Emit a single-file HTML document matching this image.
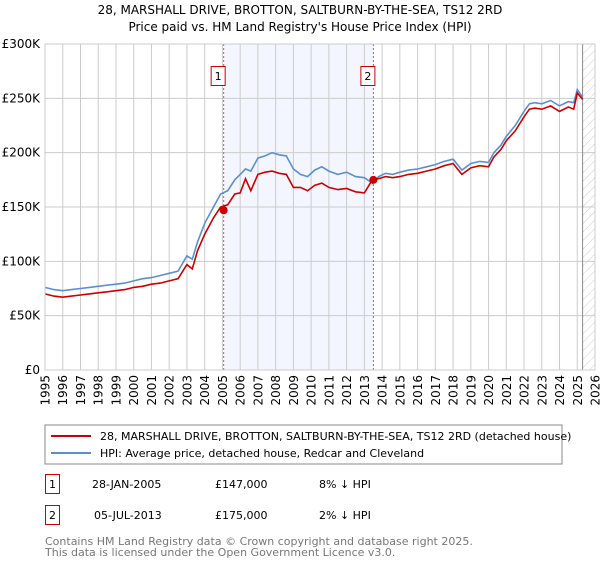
<!DOCTYPE html>
<html><head><meta charset="utf-8"><style>
body{margin:0;background:#fff;font-family:"DejaVu Sans","Liberation Sans",sans-serif;}
svg text{font-family:"DejaVu Sans","Liberation Sans",sans-serif;}
</style></head><body>
<svg id="c" width="600" height="560" xmlns="http://www.w3.org/2000/svg">
<defs><pattern id="hatch" width="6" height="6" patternUnits="userSpaceOnUse" patternTransform="rotate(45)"><line x1="0" y1="0" x2="0" y2="6" stroke="#ccc" stroke-width="1"/></pattern></defs>
<text x="300" y="14" text-anchor="middle" font-size="12">28, MARSHALL DRIVE, BROTTON, SALTBURN-BY-THE-SEA, TS12 2RD</text>
<text x="300" y="31" text-anchor="middle" font-size="12">Price paid vs. HM Land Registry's House Price Index (HPI)</text>
<g id="plot"></g>
<rect x="45" y="425" width="517" height="39" fill="#fff" stroke="#888"/>
<line x1="51" y1="436" x2="91" y2="436" stroke="#cc0000" stroke-width="2"/>
<text x="100" y="440" font-size="11">28, MARSHALL DRIVE, BROTTON, SALTBURN-BY-THE-SEA, TS12 2RD (detached house)</text>
<line x1="51" y1="453" x2="91" y2="453" stroke="#5b8fd0" stroke-width="2"/>
<text x="100" y="457" font-size="11">HPI: Average price, detached house, Redcar and Cleveland</text>
<g font-size="11">
<rect x="45.5" y="474.5" width="14" height="19" fill="none" stroke="#cc0000"/>
<text x="52.5" y="488" text-anchor="middle">1</text>
<text x="92" y="488">28-JAN-2005</text>
<text x="215" y="488">£147,000</text>
<text x="319" y="488">8% ↓ HPI</text>
<rect x="45.5" y="505.5" width="14" height="19" fill="none" stroke="#cc0000"/>
<text x="52.5" y="519" text-anchor="middle">2</text>
<text x="94" y="519">05-JUL-2013</text>
<text x="215" y="519">£175,000</text>
<text x="319" y="519">2% ↓ HPI</text>
</g>
<text x="45" y="545" font-size="11" fill="#777">Contains HM Land Registry data © Crown copyright and database right 2025.</text>
<text x="45" y="556" font-size="11" fill="#777">This data is licensed under the Open Government Licence v3.0.</text>
</svg>
<script>
const years=[1995,1995.5,1996,1996.5,1997,1997.5,1998,1998.5,1999,1999.5,2000,2000.5,2001,2001.5,2002,2002.5,2003,2003.3,2003.6,2004,2004.5,2004.9,2005.3,2005.7,2006,2006.3,2006.6,2007,2007.4,2007.8,2008.2,2008.6,2009,2009.4,2009.8,2010.2,2010.6,2011,2011.5,2012,2012.5,2013,2013.45,2013.8,2014.2,2014.6,2015,2015.5,2016,2016.5,2017,2017.5,2018,2018.5,2019,2019.5,2020,2020.3,2020.7,2021,2021.5,2022,2022.3,2022.6,2023,2023.5,2024,2024.5,2024.8,2025,2025.3];
const hpi=[76,74,73,74,75,76,77,78,79,80,82,84,85,87,89,91,105,102,118,135,150,162,165,175,180,185,183,195,197,200,198,197,185,180,178,184,187,183,180,182,178,177,172,178,181,180,182,184,185,187,189,192,194,184,190,192,191,200,207,215,225,238,245,246,245,248,243,247,246,258,251];
const paid=[70,68,67,68,69,70,71,72,73,74,76,77,79,80,82,84,97,93,110,125,140,150,152,162,163,176,165,180,182,183,181,180,168,168,165,170,172,168,166,167,164,163,175,176,178,177,178,180,181,183,185,188,190,180,186,188,187,196,203,211,220,233,240,241,240,243,238,242,240,255,249];
const sales=[[2005.07,147000],[2013.51,175000]];
const yTicks=[0,50,100,150,200,250,300];
const xTicks=[1995,1996,1997,1998,1999,2000,2001,2002,2003,2004,2005,2006,2007,2008,2009,2010,2011,2012,2013,2014,2015,2016,2017,2018,2019,2020,2021,2022,2023,2024,2025,2026];
const X0=45,X1=595,Y0=370,Y1=44;
const xs=v=>X0+(v-1995)/31*(X1-X0);
const ys=v=>Y0-v/300*(Y0-Y1);
const NS='http://www.w3.org/2000/svg';
const g=document.getElementById('plot');
function mk(t,a){const e=document.createElementNS(NS,t);for(const k in a)e.setAttribute(k,a[k]);g.appendChild(e);return e;}
let e;
e=mk('rect',{x:xs(sales[0][0]),y:Y1,width:xs(sales[1][0])-xs(sales[0][0]),height:Y0-Y1,fill:'#f3f6fe'});


e=mk('rect',{x:xs(2025.3),y:Y1,width:X1-xs(2025.3),height:Y0-Y1,fill:'url(#hatch)'});


xTicks.forEach(t=>{
 e=mk('line',{x1:xs(t),x2:xs(t),y1:Y1,y2:Y0,stroke:'#ccc'});
 
 
 const tx=mk('text',{x:0,y:0,'font-size':12,'text-anchor':'end',transform:`translate(${xs(t)+4.5},375) rotate(-90)`});
 tx.textContent=t;
 
 
});
yTicks.forEach(t=>{
 e=mk('line',{x1:X0,x2:X1,y1:ys(t),y2:ys(t),stroke:'#ccc'});
 
 
 const tx=mk('text',{x:40,y:ys(t)+4,'font-size':12,'text-anchor':'end'});
 tx.textContent=t===0?'£0':'£'+t+'K';
 
 
});
e=mk('line',{x1:xs(2025.3),x2:xs(2025.3),y1:Y1,y2:Y0,stroke:'#888'});


sales.forEach((s,i)=>{
 e=mk('line',{x1:xs(s[0]),x2:xs(s[0]),y1:Y1,y2:Y0,stroke:'#e05050','stroke-dasharray':'2,2'});
 
 
 e=mk('rect',{x:xs(s[0])-12.5,y:66.5,width:14,height:19,fill:'#fff',stroke:'#cc0000'});
 
 
 const tx=mk('text',{x:xs(s[0])-5.5,y:80,'font-size':11,'text-anchor':'middle'});
 tx.textContent=i+1;
 
 
});
const pts=a=>a.map((v,i)=>xs(years[i]).toFixed(1)+','+ys(v).toFixed(1)).join(' ');
e=mk('polyline',{points:pts(hpi),fill:'none',stroke:'#5b8fd0','stroke-width':1.6});


e=mk('polyline',{points:pts(paid),fill:'none',stroke:'#cc0000','stroke-width':1.6});


sales.forEach(s=>{
 e=mk('circle',{cx:xs(s[0]),cy:ys(s[1]/1000),r:4,fill:'#cc0000'});
 
 
});
e=mk('rect',{x:X0,y:Y1,width:X1-X0,height:Y0-Y1,fill:'none',stroke:'#ccc'});


</script>
</body></html>
